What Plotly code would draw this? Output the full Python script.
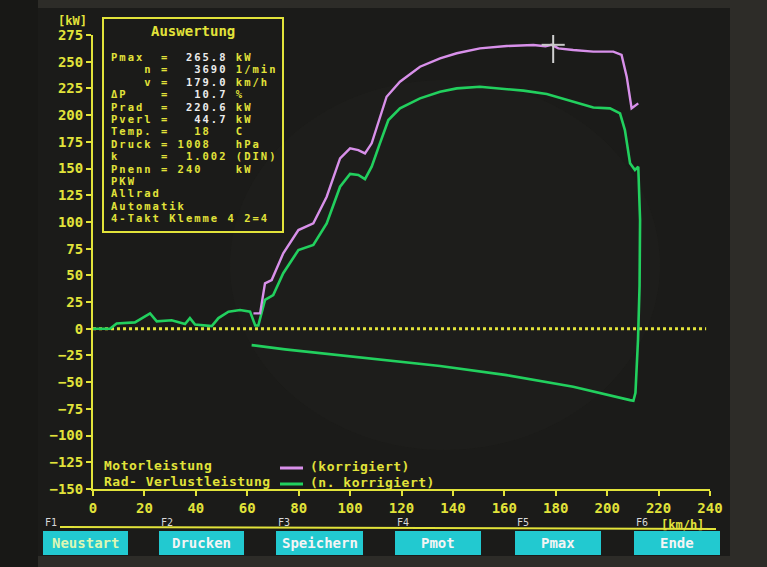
import plotly.graph_objects as go

# ---------------- data ----------------
# wheel power (green, n. korrigiert) speed [km/h] / power [kW]
wheel_speed = [0, 6.6, 9.2, 16.3, 22.2, 24.8, 30.6, 35.8, 37.7, 39.7, 46.2, 48.8, 52.7, 57.2,
               61.1, 63.1, 64.3, 66.9, 70.1, 74.0, 79.9, 85.7, 90.9, 96.1, 100.0, 103.2, 105.8,
               108.4, 111.6, 114.9, 119.4, 127.2, 135.0, 141.5, 150.5, 157.0, 167.4, 176.5,
               186.8, 194.6, 201.1, 205.0, 206.9, 208.9, 210.8, 212.1, 212.8, 212.6, 212.0,
               211.5, 211.0, 210.2]
wheel_power = [0, 0, 5, 6, 14.4, 7, 8, 4.5, 10, 4, 2.5, 10, 16, 17.5,
               16, 3, 3, 27, 31.5, 52, 73.7, 78.4, 98.7, 133, 145, 144, 140,
               151.7, 173.6, 195.4, 206.3, 215.7, 221.9, 225, 226.6, 225, 222.9, 219.7,
               212.5, 207.2, 206.3, 201.6, 186, 154.9, 148.6, 151.7, 101.8, 40, -10,
               -45, -60, -67.4]
# loss power (green, below zero)
loss_speed = [208.9, 186.8, 160.9, 135.0, 109.0, 83.1, 74.7, 61.7]
loss_power = [-66.8, -54.3, -43.4, -34.9, -28.4, -21.5, -19.3, -15.3]

# engine power corrected (pink)
motor_speed = [62.4, 65.0, 66.9, 69.5, 74.0, 79.9, 85.7, 90.9, 96.1, 100.0, 103.2, 105.8,
               108.4, 111.6, 114.2, 119.4, 127.2, 135.0, 141.5, 150.5, 160.9, 171.3, 176.0,
               178.4, 181.0, 186.8, 194.6, 202.4, 205.6, 207.6, 209.5, 212.1]
motor_power = [14.4, 14.4, 42.5, 45.6, 70.6, 92.4, 98.7, 123.6, 159.5, 168.9, 167.3, 164.2,
               173.6, 198.5, 217.2, 231.3, 245.3, 253.2, 257.9, 262.5, 264.7, 265.6, 264.5,
               265.8, 262.5, 261.0, 259.4, 259.4, 256.3, 236.0, 206.4, 211.0]

cursor_v = 179.0
cursor_p = 265.8

y_ticks = list(range(-150, 276, 25))
x_ticks = list(range(0, 241, 20))

box_labels = ["Pmax", "    n", "    v", "ΔP", "Prad", "Pverl", "Temp.", "Druck", "k", "Pnenn"]
box_values = ["  265.8", "   3690", "  179.0", "   10.7", "  220.6", "   44.7",
              "   18  ", " 1008  ", "  1.002", " 240   "]
box_value_white = [True, True, True, True, True, True, False, False, False, False]
box_units = ["kW", "1/min", "km/h", "%", "kW", "kW", "C", "hPa", "(DIN)", "kW"]
box_extra = ["PKW", "Allrad", "Automatik", "4-Takt Klemme 4 2=4"]

legend_names = ["Motorleistung", "Rad- Verlustleistung"]
legend_states = ["(korrigiert)", "(n. korrigiert)"]

buttons = ["Neustart", "Drucken", "Speichern", "Pmot", "Pmax", "Ende"]
button_keys = ["F1", "F2", "F3", "F4", "F5", "F6"]

# ---------------- style ----------------
YEL = "#e2e33a"
GREEN = "#22d05e"
PINK = "#d890ea"
WHITE = "#ececec"
CYAN = "#22c9d0"
MONO = "DejaVu Sans Mono"

L, R, T, B = 93, 710, 35, 489
W, H = R - L, B - T


def PX(x):
    return (x - L) / W


def PY(y):
    return (B - y) / H


def nb(s):
    return s.replace(" ", "&nbsp;")


def span(s, color, size, spacing):
    return (f"<span style='font-size:{size}px;letter-spacing:{spacing}px;color:{color}'>"
            f"{nb(s)}</span>")


fig = go.Figure()

green_x = wheel_speed + loss_speed
green_y = wheel_power + loss_power
fig.add_trace(go.Scatter(x=green_x, y=green_y, mode="lines",
                         line=dict(color=GREEN, width=2.6), hoverinfo="skip"))
fig.add_trace(go.Scatter(x=motor_speed, y=motor_power, mode="lines",
                         line=dict(color=PINK, width=2.4), hoverinfo="skip"))

shapes = []
# monitor / screen
shapes.append(dict(type="rect", xref="paper", yref="paper", x0=PX(0), x1=PX(38),
                   y0=PY(567), y1=PY(0), fillcolor="#181816", line=dict(width=0), layer="below"))
shapes.append(dict(type="rect", xref="paper", yref="paper", x0=PX(38), x1=PX(730),
                   y0=PY(556), y1=PY(8), fillcolor="#1b1b19", line=dict(width=0), layer="below"))
shapes.append(dict(type="circle", xref="paper", yref="paper", x0=PX(230), x1=PX(660),
                   y0=PY(450), y1=PY(80), fillcolor="rgba(70,68,45,0.08)", line=dict(width=0),
                   layer="below"))
# zero line (dotted)
shapes.append(dict(type="line", xref="x", yref="y", x0=0, x1=238.5, y0=0, y1=0,
                   line=dict(color=YEL, width=3, dash="dot"), layer="below"))
# cursor
shapes.append(dict(type="line", xref="x", yref="y", x0=cursor_v, x1=cursor_v,
                   y0=cursor_p - 17, y1=cursor_p + 15, line=dict(color="#d0d0d0", width=2)))
shapes.append(dict(type="line", xref="x", yref="y", x0=cursor_v - 4.5, x1=cursor_v + 4.5,
                   y0=cursor_p, y1=cursor_p, line=dict(color="#c8c8c8", width=2)))
# info box
shapes.append(dict(type="rect", xref="paper", yref="paper", x0=PX(103), x1=PX(283),
                   y0=PY(232), y1=PY(18), line=dict(color=YEL, width=2),
                   fillcolor="rgba(0,0,0,0)"))
# legend keys
shapes.append(dict(type="line", xref="paper", yref="paper", x0=PX(280), x1=PX(303),
                   y0=PY(468), y1=PY(468), line=dict(color=PINK, width=3)))
shapes.append(dict(type="line", xref="paper", yref="paper", x0=PX(280), x1=PX(303),
                   y0=PY(484), y1=PY(484), line=dict(color=GREEN, width=3)))
# function key line
shapes.append(dict(type="line", xref="paper", yref="paper", x0=PX(60), x1=PX(716),
                   y0=PY(527), y1=PY(529), line=dict(color=YEL, width=2)))
# buttons
btn_x = [(43, 128), (159, 244), (276, 363), (395, 481), (515, 601), (634, 720)]
for x0, x1 in btn_x:
    shapes.append(dict(type="rect", xref="paper", yref="paper", x0=PX(x0), x1=PX(x1),
                       y0=PY(555), y1=PY(531), fillcolor=CYAN, line=dict(width=0)))

ann = []


def txt(x, y, s, color=YEL, size=14, anchor="left", bold=True, yanchor="middle"):
    ann.append(dict(xref="paper", yref="paper", x=PX(x), y=PY(y), text=s, showarrow=False,
                    xanchor=anchor, yanchor=yanchor, align="left", borderpad=0,
                    font=dict(family=MONO, size=size, color=color,
                              weight="bold" if bold else "normal")))


txt(193, 31, "Auswertung", anchor="center")

# info box: one multi-line block (tight line pitch of the original screen)
ROW = 12.4
FS, LS = 10.5, 2.0          # short, wide glyphs like the dyno screen font
rows = []
for i, lab in enumerate(box_labels):
    vcol = WHITE if box_value_white[i] else YEL
    rows.append(span(f"{lab:<6}=", YEL, FS, LS) + span(box_values[i], vcol, FS, LS)
                + span(" " + box_units[i], YEL, FS, LS))
for s in box_extra:
    rows.append(span(s, YEL, FS, LS))
first_y = 56.5
center_y = first_y + ROW * (len(rows) - 1) / 2
txt(110, center_y, "<br>".join(rows), size=ROW / 1.3)

# legend block
LROW = 16
txt(103, 465 + LROW / 2, "<br>".join(span(s, YEL, 13, 0.5) for s in legend_names),
    size=LROW / 1.3)
txt(309, 466 + LROW / 2, "<br>".join(span(s, YEL, 13, 0.5) for s in legend_states),
    size=LROW / 1.3)

# axis units
txt(72, 21, "[kW]", size=12, anchor="center")
txt(705, 525, "[km/h]", size=12, anchor="right")

# buttons
for i, (lab, key) in enumerate(zip(buttons, button_keys)):
    x0, x1 = btn_x[i]
    col = "#dcf7b4" if i == 0 else "#f4f4f4"
    txt((x0 + x1) / 2, 543, lab, color=col, size=14, anchor="center")
    txt(x0 + 1, 522, key, color="#d8d8d8", size=10, anchor="left", bold=False)

axis_common = dict(showgrid=False, zeroline=False, showline=True, linecolor=YEL, linewidth=2,
                   ticks="outside", tickcolor=YEL, tickwidth=2, ticklen=5,
                   tickfont=dict(family=MONO, size=14, color=YEL, weight="bold"),
                   fixedrange=True)

fig.update_layout(
    width=767, height=567,
    margin=dict(l=L, r=767 - R, t=T, b=567 - B),
    paper_bgcolor="#2d2c28",
    plot_bgcolor="rgba(0,0,0,0)",
    showlegend=False,
    hovermode=False,
    xaxis=dict(range=[0, 240], tickvals=x_ticks, **axis_common),
    yaxis=dict(range=[-150, 275], tickvals=y_ticks, **axis_common),
    shapes=shapes,
    annotations=ann,
)

fig.write_html("out.html", config={"displayModeBar": False},
               post_script="document.body.style.margin='0';document.body.style.padding='0';"
                           "document.body.style.background='#2d2c28';")
